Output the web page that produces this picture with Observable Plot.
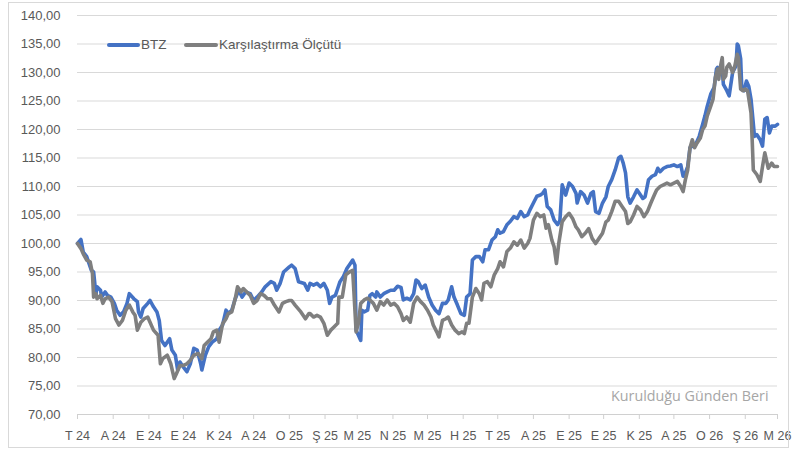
<!DOCTYPE html>
<html>
<head>
<meta charset="utf-8">
<script src="https://cdn.jsdelivr.net/npm/d3@7"></script>
<script src="https://cdn.jsdelivr.net/npm/@observablehq/plot@0.6"></script>
<style>
  body { margin: 0; background: #fff; }
  #wrap { position: relative; width: 805px; height: 450px; font-family: "Liberation Sans", Arial, sans-serif; }
  #frame { position: absolute; left: 8px; top: 2px; width: 779px; height: 444px; border: 1px solid #d9d9d9; pointer-events: none; }
  .sw { position: absolute; height: 4px; border-radius: 2px; }
  .lt { position: absolute; font-size: 13.5px; line-height: 16px; color: #595959; white-space: nowrap; }
</style>
</head>
<body>
<div id="wrap">
  <div id="chart"></div>
  <div id="frame"></div>
  <div class="sw" style="left:107px;top:43px;width:33px;background:#4472C4"></div>
  <div class="lt" id="l1" style="left:141px;top:37px"></div>
  <div class="sw" style="left:184px;top:43px;width:34px;background:#7f7f7f"></div>
  <div class="lt" id="l2" style="left:219px;top:37px"></div>
</div>
<script>
// ---- data (days since 2024-07-01, values) ----
const seriesNames = ["BTZ", "Karşılaştırma Ölçütü"];
const noteText = "Kurulduğu Günden Beri";
const monthLabels = ["T 24","A 24","E 24","E 24","K 24","A 24","O 25","Ş 25","M 25","N 25","M 25","H 25","T 25","A 25","E 25","E 25","K 25","A 25","O 26","Ş 26","M 26"];
const yTickValues = [70,75,80,85,90,95,100,105,110,115,120,125,130,135,140];

const btzDays = [0,3,5,8,10,12,14,16,17,20,
21,24,26,29,32,34,37,40,43,45,
49,52,53,55,57,61,63,66,69,71,
73,76,80,82,85,87,89,92,95,98,
101,104,107,108,111,114,117,121,123,126,
129,131,134,137,140,143,146,150,153,156,
160,163,168,171,173,176,179,184,186,189,
192,197,200,202,205,208,211,214,217,219,
221,224,226,228,231,234,237,239,241,242,
244,246,247,249,252,254,256,259,260,263,
266,269,272,275,278,281,283,286,289,292,
294,296,299,302,305,308,311,314,317,320,
322,325,327,330,333,336,338,341,343,346,
349,352,354,357,360,363,365,367,370,373,
376,379,382,385,388,391,393,396,399,402,
404,406,408,411,414,417,419,421,424,427,
430,433,434,437,440,443,446,448,450,453,
456,459,461,464,467,470,472,474,476,478,
480,483,486,488,491,493,496,499,502,504,
506,509,512,515,518,521,524,526,528,530,
532,534,537,540,543,545,547,550,553,555,
556,558,560,561,564,566,569,572,573,574,
576,577,579,581,583,585,586,588,590,593,
595,597,599,601,603,606,608];
const btzValues = [100.0,100.7,98.5,97.7,96.5,95.3,95.0,91.0,92.4,91.8,
90.6,91.5,90.9,90.6,89.5,88.3,87.4,88.0,89.5,91.2,
90.3,89.8,88.0,87.1,88.6,89.5,90.0,88.9,88.0,86.5,
83.0,82.1,83.3,81.3,80.4,77.8,79.2,78.3,77.5,78.9,
81.6,81.3,78.9,77.8,80.4,81.9,82.7,83.3,84.8,85.7,
88.3,87.7,88.3,90.3,91.8,90.6,91.5,91.2,90.0,90.6,
91.5,92.4,93.3,93.0,91.8,93.0,95.0,95.9,96.2,95.6,
93.3,93.0,91.8,93.0,92.7,93.0,92.4,93.0,91.8,89.5,
90.6,90.9,92.1,93.3,94.2,95.6,96.5,97.1,96.2,84.8,
83.9,83.0,88.3,88.0,88.3,90.9,91.2,90.6,91.5,90.6,
91.2,91.5,91.8,91.8,92.5,92.3,90.1,90.4,90.1,91.2,
93.6,93.3,92.1,92.7,90.6,89.2,88.3,87.7,89.5,89.5,
90.1,92.4,90.6,89.2,87.7,87.4,90.6,91.2,97.1,97.7,
97.7,96.8,98.9,98.9,100.6,101.2,102.4,101.8,102.1,103.3,
103.9,104.7,104.4,105.6,104.7,105.0,105.9,107.1,108.3,108.5,
108.8,109.4,106.5,105.9,104.1,103.3,104.0,110.3,108.5,110.6,
110.0,108.8,107.1,109.1,108.5,107.1,108.8,109.1,105.6,105.3,
107.1,108.2,110.0,111.2,112.9,115.0,115.3,114.1,112.4,108.2,
107.1,108.2,109.4,108.8,107.9,108.2,111.2,111.8,112.1,113.2,
112.6,113.2,113.5,113.6,113.8,113.5,113.8,111.8,112.4,113.5,
116.8,117.1,117.4,118.8,120.9,122.4,124.1,126.2,127.4,130.6,
130.9,129.7,130.6,127.9,126.8,125.9,130.0,131.2,135.0,134.7,
132.4,127.1,126.8,128.5,127.6,125.3,123.2,118.8,119.1,118.2,
117.1,121.8,122.1,119.4,120.6,120.6,120.9];

const benchDays = [0,3,5,8,11,13,14,16,17,20,
22,24,27,30,33,36,39,42,45,48,
50,52,55,58,61,63,66,70,72,74,
78,81,84,86,89,92,95,98,101,105,
108,110,113,116,118,121,123,126,129,131,
134,137,139,142,144,147,150,153,156,159,
162,165,168,171,175,178,181,184,186,189,
194,198,201,202,205,208,211,214,217,220,
223,226,227,230,233,236,239,240,242,244,
246,249,252,254,257,260,263,266,269,272,
275,278,281,283,286,289,292,295,298,301,
304,307,309,312,314,317,320,322,325,328,
331,334,336,338,340,343,346,349,351,353,
356,359,362,365,367,370,373,376,379,382,
385,388,391,393,396,399,402,405,407,409,
412,414,416,418,421,424,427,430,433,435,
438,441,444,447,450,453,456,459,461,464,
467,470,473,476,478,480,483,486,489,492,
495,498,501,503,506,509,512,515,518,521,
524,526,528,530,532,534,536,538,541,543,
545,547,550,552,554,556,557,558,560,561,
563,564,566,569,571,573,574,576,578,580,
582,585,586,587,590,593,595,597,599,600,
603,605,608];
const benchValues = [100.0,99.1,98.2,97.1,96.8,94.7,90.6,91.2,90.3,90.9,
89.5,90.3,90.6,89.8,86.8,85.7,86.5,88.3,89.2,88.0,
87.4,84.8,86.2,86.8,87.1,86.2,84.8,83.9,78.9,79.8,
80.4,78.9,76.3,77.2,78.6,78.6,78.9,79.5,80.4,80.7,
79.8,82.1,82.7,83.3,84.5,84.8,82.7,85.9,86.8,87.7,
88.0,90.3,92.4,91.5,92.1,91.5,90.9,89.5,90.0,91.2,
90.9,90.3,90.3,89.2,88.0,89.5,89.8,90.0,90.0,89.2,
88.0,86.8,87.7,87.7,87.1,87.4,87.1,86.0,83.9,84.8,
85.4,86.0,90.6,90.6,94.5,95.0,95.3,91.8,84.5,86.0,
89.5,90.1,90.4,90.1,89.5,88.3,89.8,89.2,90.1,89.2,
89.5,88.9,87.7,86.5,87.1,86.2,89.5,90.6,89.8,89.2,
88.3,87.1,85.7,84.5,83.6,86.5,86.8,87.1,85.7,84.8,
84.2,84.5,84.2,86.0,86.0,90.6,92.1,91.2,90.1,93.0,
93.3,92.4,94.5,95.6,96.8,95.9,98.6,99.2,100.3,99.7,
100.6,99.2,100.0,100.9,104.1,105.3,104.7,105.0,102.7,103.3,
100.6,99.4,96.5,100.0,103.8,104.7,105.3,104.4,102.9,102.4,
101.2,101.8,102.6,100.9,100.0,100.9,101.8,103.8,104.1,105.6,
107.4,107.4,106.5,105.6,103.5,103.8,105.0,106.5,105.9,104.7,
105.6,107.1,108.5,109.4,110.0,110.3,110.6,110.3,110.6,110.9,
110.0,109.1,111.2,112.9,116.8,118.2,116.8,117.6,118.5,120.0,
120.6,122.4,124.1,125.3,129.1,130.6,128.8,130.6,132.6,128.8,
129.4,130.9,131.5,130.0,131.2,133.2,132.6,127.1,126.8,127.1,
126.8,122.9,118.2,112.9,112.1,110.9,113.5,115.9,114.1,113.2,
114.1,113.5,113.5];

// ---- build ----
const start = new Date(Date.UTC(2024, 6, 1));
const end = new Date(Date.UTC(2026, 2, 1));
const toDate = d => d3.utcDay.offset(start, d);
const btz = btzDays.map((d, i) => ({date: toDate(d), value: btzValues[i]}));
const bench = benchDays.map((d, i) => ({date: toDate(d), value: benchValues[i]}));
const monthTicks = d3.utcMonth.range(start, d3.utcDay.offset(end, 1));
const fmtY = v => v.toFixed(2).replace(".", ",");
const fmtX = d => monthLabels[d3.utcMonth.count(start, d)];

document.getElementById("l1").textContent = seriesNames[0];
document.getElementById("l2").textContent = seriesNames[1];

const chart = Plot.plot({
  width: 805,
  height: 450,
  marginLeft: 77,
  marginRight: 28,
  marginTop: 15,
  marginBottom: 36,
  style: {fontFamily: "'Liberation Sans', Arial, sans-serif", fontSize: "12.5px", color: "#595959", background: "transparent"},
  x: {type: "utc", domain: [start, end]},
  y: {domain: [70, 140]},
  marks: [
    Plot.gridY(yTickValues.filter(v => v > 70), {stroke: "#d9d9d9", strokeOpacity: 1, strokeWidth: 1}),
    Plot.ruleY([70], {stroke: "#d0d0d0", strokeWidth: 1}),
    Plot.axisY({ticks: yTickValues, tickSize: 0, tickPadding: 17, tickFormat: fmtY, label: null, fontSize: 13}),
    Plot.axisX({ticks: monthTicks, tickSize: 5, tickPadding: 12, tickFormat: fmtX, label: null, stroke: "#d0d0d0"}),
    Plot.line(btz, {x: "date", y: "value", stroke: "#4472C4", strokeWidth: 3.6, strokeLinejoin: "round", strokeLinecap: "round"}),
    Plot.line(bench, {x: "date", y: "value", stroke: "#7f7f7f", strokeWidth: 3.6, strokeLinejoin: "round", strokeLinecap: "round"}),
    Plot.text([noteText], {frameAnchor: "bottom-right", dx: -9, dy: -14, fill: "#a6a6a6", fontSize: 14.3, fontFamily: "'Open Sans', sans-serif"})
  ]
});
document.getElementById("chart").appendChild(chart);
</script>
</body>
</html>
